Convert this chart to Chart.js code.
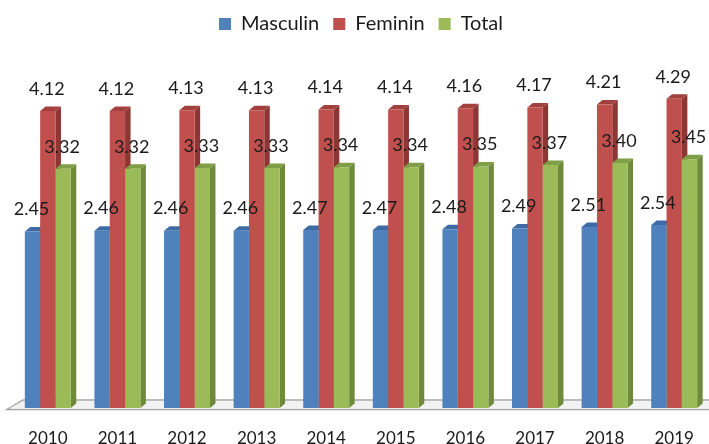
<!DOCTYPE html>
<html>
<head>
<meta charset="utf-8">
<script src="https://cdn.jsdelivr.net/npm/chart.js@4"></script>
<style>
  body { margin: 0; background: #fff; }
  #wrap { width: 709px; height: 444px; }
</style>
</head>
<body>
<div id="wrap"><canvas id="chart" width="709" height="444"></canvas></div>
<script>
// data
const years = ["2010", "2011", "2012", "2013", "2014", "2015", "2016", "2017", "2018", "2019"];
const masculin = [2.45, 2.46, 2.46, 2.46, 2.47, 2.47, 2.48, 2.49, 2.51, 2.54];
const feminin = [4.12, 4.12, 4.13, 4.13, 4.14, 4.14, 4.16, 4.17, 4.21, 4.29];
const total = [3.32, 3.32, 3.33, 3.33, 3.34, 3.34, 3.35, 3.37, 3.40, 3.45];

const FONT = "Lato, 'Open Sans', sans-serif";
// front / side / top colours for each series
const faces = [
  { front: "#4F81BD", side: "#385F8F", top: "#3E6BA3" },
  { front: "#C0504D", side: "#8E3634", top: "#A2403D" },
  { front: "#9BBB59", side: "#6E8A3A", top: "#809E45" }
];
const DX = 5.5, DY = 4.5;

// floor + side/top faces of the bars (fronts are drawn by chart.js afterwards)
const bars3d = {
  id: "bars3d",
  beforeDatasetsDraw(chart) {
    const ctx = chart.ctx;
    const a = chart.chartArea;
    ctx.save();
    // floor slab
    ctx.strokeStyle = "#A6A6A6";
    ctx.lineWidth = 1.5;
    ctx.beginPath();
    ctx.moveTo(a.right, a.bottom - 8);
    ctx.lineTo(23, a.bottom - 8);
    ctx.lineTo(7, a.bottom + 1.5);
    ctx.lineTo(a.right, a.bottom + 1.5);
    ctx.stroke();
    ctx.fillStyle = "#F2F2F2";
    ctx.beginPath();
    ctx.moveTo(a.right, a.bottom - 7);
    ctx.lineTo(23.5, a.bottom - 7);
    ctx.lineTo(9, a.bottom + 0.5);
    ctx.lineTo(a.right, a.bottom + 0.5);
    ctx.fill();

    chart.data.datasets.forEach((ds, i) => {
      const meta = chart.getDatasetMeta(i);
      meta.data.forEach((bar) => {
        const p = bar.getProps(["x", "y", "base", "width"], true);
        const l = p.x - p.width / 2, r = p.x + p.width / 2;
        // side
        ctx.fillStyle = faces[i].side;
        ctx.beginPath();
        ctx.moveTo(r, p.y);
        ctx.lineTo(r + DX, p.y - DY);
        ctx.lineTo(r + DX, p.base - DY);
        ctx.lineTo(r, p.base);
        ctx.closePath();
        ctx.fill();
        // top
        ctx.fillStyle = faces[i].top;
        ctx.beginPath();
        ctx.moveTo(l, p.y);
        ctx.lineTo(l + DX, p.y - DY);
        ctx.lineTo(r + DX, p.y - DY);
        ctx.lineTo(r, p.y);
        ctx.closePath();
        ctx.fill();
      });
    });
    ctx.restore();
  },
  afterDatasetsDraw(chart) {
    const ctx = chart.ctx;
    ctx.save();
    ctx.font = "18px " + FONT;
    ctx.fillStyle = "#1a1a1a";
    ctx.textAlign = "center";
    ctx.textBaseline = "middle";
    chart.data.datasets.forEach((ds, i) => {
      const meta = chart.getDatasetMeta(i);
      meta.data.forEach((bar, j) => {
        const p = bar.getProps(["x", "y"], true);
        ctx.fillText(ds.data[j].toFixed(2), p.x - 1, p.y - 22);
      });
    });
    ctx.restore();
  }
};

const chart = new Chart(document.getElementById("chart"), {
  type: "bar",
  data: {
    labels: years,
    datasets: [
      { label: "Masculin", data: masculin, backgroundColor: faces[0].front },
      { label: "Feminin", data: feminin, backgroundColor: faces[1].front },
      { label: "Total", data: total, backgroundColor: faces[2].front }
    ]
  },
  options: {
    responsive: false,
    animation: false,
    layout: { padding: { left: 13, right: 0, top: 0, bottom: 0 } },
    datasets: { bar: { categoryPercentage: 0.66, barPercentage: 1 } },
    plugins: {
      legend: {
        position: "top",
        labels: {
          boxWidth: 12,
          boxHeight: 12,
          padding: 14,
          color: "#1a1a1a",
          font: { family: FONT, size: 20 }
        }
      },
      tooltip: { enabled: false }
    },
    scales: {
      x: {
        grid: { display: false, drawTicks: false },
        border: { display: false },
        ticks: { padding: 20, color: "#1a1a1a", font: { family: FONT, size: 17 } },
        afterFit(s) { s.height = 36; s.paddingLeft = 0; s.paddingRight = 0; }
      },
      y: { display: false, min: 0, max: 5.05 }
    }
  },
  plugins: [bars3d]
});
</script>
</body>
</html>
